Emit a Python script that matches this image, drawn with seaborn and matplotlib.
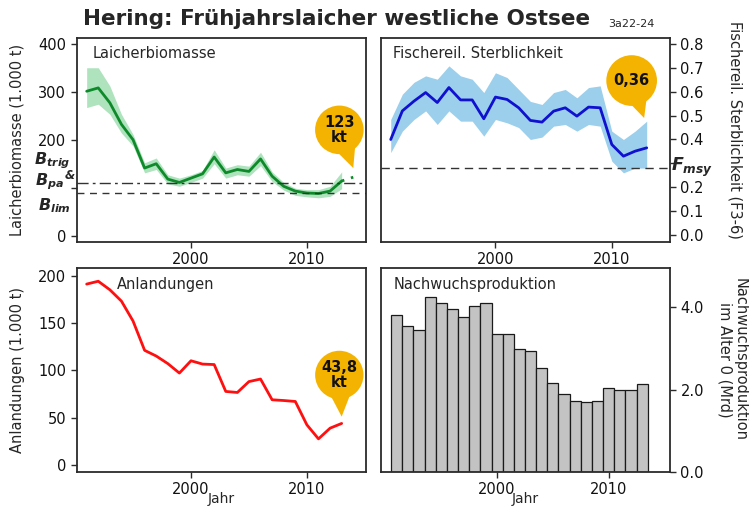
import matplotlib
matplotlib.use("Agg")
import matplotlib.pyplot as plt
import seaborn as sns

years = list(range(1991, 2014))

# Laicherbiomasse (1.000 t) mit Unsicherheitsband, 2014 = Prognose
ssb = [302, 309, 278, 233, 201, 142, 151, 119, 112, 121, 130, 165, 132, 139, 135, 161, 125, 104, 94, 90, 89, 94, 115]
ssb_hi = [351, 351, 313, 254, 212, 153, 163, 128, 121, 128, 137, 180, 142, 149, 146, 175, 134, 112, 100, 97, 97, 104, 134]
ssb_lo = [268, 275, 254, 215, 188, 132, 139, 109, 104, 112, 121, 151, 121, 128, 125, 147, 114, 96, 85, 82, 80, 83, 99]
ssb_prog_years = [2013, 2014]
ssb_prog = [115, 123]
b_pa = 110
b_lim = 90

# Fischereiliche Sterblichkeit F3-6
f_val = [0.40, 0.52, 0.561, 0.597, 0.555, 0.618, 0.566, 0.566, 0.487, 0.578, 0.568, 0.533,
         0.48, 0.473, 0.519, 0.533, 0.498, 0.536, 0.533, 0.379, 0.33, 0.351, 0.365]
f_hi = [0.484, 0.59, 0.64, 0.667, 0.653, 0.709, 0.667, 0.653, 0.597, 0.68, 0.66, 0.61,
        0.56, 0.547, 0.597, 0.61, 0.575, 0.618, 0.625, 0.435, 0.40, 0.435, 0.477]
f_lo = [0.345, 0.435, 0.484, 0.52, 0.463, 0.52, 0.477, 0.477, 0.414, 0.484, 0.47, 0.45,
        0.40, 0.41, 0.456, 0.463, 0.435, 0.463, 0.456, 0.309, 0.26, 0.28, 0.28]
f_msy = 0.28

# Anlandungen (1.000 t)
landings = [191, 194, 185, 173, 152, 121, 115, 107, 97, 110, 106.5, 106, 77.6, 76.5, 88,
            90.7, 68.8, 68, 67, 42.3, 27.5, 38.8, 43.8]

# Nachwuchsproduktion im Alter 0 (Mrd)
recruits = [3.82, 3.54, 3.46, 4.25, 4.11, 3.96, 3.77, 4.03, 4.12, 3.36, 3.36, 2.98, 2.94,
            2.54, 2.17, 1.89, 1.73, 1.69, 1.73, 2.04, 1.99, 1.99, 2.15]

callouts = ["123\nkt", "0,36", "43,8\nkt"]

sns.set_style("white")
plt.rcParams["font.family"] = ["DejaVu Sans"]
plt.rcParams["mathtext.fontset"] = "custom"
plt.rcParams["mathtext.it"] = "DejaVu Sans:italic:bold"
plt.rcParams["mathtext.rm"] = "DejaVu Sans:bold:italic"

dark = "#2b2b2b"
yellow = "#F5B301"

fig = plt.figure(figsize=(7.49, 5.09), dpi=100)
ax_tl = fig.add_axes([0.1024, 0.5246, 0.3858, 0.4008])
ax_tr = fig.add_axes([0.5083, 0.5246, 0.3862, 0.4008])
ax_bl = fig.add_axes([0.1024, 0.0727, 0.3858, 0.4008])
ax_br = fig.add_axes([0.5083, 0.0727, 0.3862, 0.4008])


def style(ax, right=False):
    for s in ax.spines.values():
        s.set_color(dark)
        s.set_linewidth(1.3)
    ax.tick_params(axis="both", direction="out", length=4, width=1, color=dark,
                   labelsize=10.5, labelcolor="#111111", bottom=True,
                   left=not right, right=right, labelleft=not right, labelright=right)
    ax.set_xticks([2000, 2010])
    ax.set_xlabel("")
    ax.set_ylabel("")


def bubble(ax, text, xy, offset, pad):
    ax.annotate(text, xy=xy, xytext=offset, textcoords="offset points",
                ha="center", va="center", fontsize=10.5, fontweight="bold",
                color="#111111", linespacing=0.95, zorder=10,
                bbox=dict(boxstyle=f"circle,pad={pad}", fc=yellow, ec="none"),
                arrowprops=dict(arrowstyle="wedge,tail_width=2.6", fc=yellow, ec="none",
                                patchA=None, shrinkA=0, shrinkB=0),
                annotation_clip=False)


# Laicherbiomasse
ax = ax_tl
ax.fill_between(years, ssb_lo, ssb_hi, color="#9adcae", alpha=0.8, lw=0)
sns.lineplot(x=years, y=ssb, ax=ax, color="#0f8a2a", linewidth=2)
sns.lineplot(x=ssb_prog_years, y=ssb_prog, ax=ax, color="#0f8a2a", linewidth=2, linestyle=(0, (1, 2.5)))
ax.axhline(b_pa, color="#333333", lw=1, dashes=(8, 3, 2, 3))
ax.axhline(b_lim, color="#333333", lw=1, dashes=(5, 4))
ax.set_xlim(1990.14, 2015.07)
ax.set_ylim(-12, 413)
ax.set_yticks([0, 100, 200, 300, 400])
ax.set_yticklabels(["0", "", "200", "300", "400"])
style(ax)
ax.text(0.056, 0.926, "Laicherbiomasse", transform=ax.transAxes, fontsize=10.5, va="center")
ax.set_ylabel("Laicherbiomasse (1.000 t)", fontsize=10.5)
ax.yaxis.set_label_coords(-0.18, 0.5)
btr = ax.get_yaxis_transform()
ax.text(-0.02, 158, r"$B_{trig}$", transform=btr, ha="right", va="center", fontsize=11.5, clip_on=False)
ax.text(-0.045, 113, r"$B_{pa}$", transform=btr, ha="right", va="center", fontsize=11.5, clip_on=False)
ax.text(-0.042, 126, "&", transform=btr, ha="left", va="center", fontsize=8.5,
        fontweight="bold", fontstyle="italic", clip_on=False)
ax.text(-0.02, 63, r"$B_{lim}$", transform=btr, ha="right", va="center", fontsize=11.5, clip_on=False)
bubble(ax, callouts[0], (2014.0, 142), (-10, 27.5), 0.62)

# Fischereiliche Sterblichkeit
ax = ax_tr
ax.fill_between(years, f_lo, f_hi, color="#9ccfeb", lw=0)
sns.lineplot(x=years, y=f_val, ax=ax, color="#1010d0", linewidth=2)
ax.axhline(f_msy, color="#333333", lw=1, dashes=(6, 4))
ax.set_xlim(1990.14, 2015.0)
ax.set_ylim(-0.03, 0.826)
ticks = [i / 10 for i in range(9)]
ax.set_yticks(ticks)
ax.set_yticklabels(["" if abs(t - 0.3) < 1e-9 else f"{t:.1f}" for t in ticks])
style(ax, right=True)
ax.text(0.043, 0.926, "Fischereil. Sterblichkeit", transform=ax.transAxes, fontsize=10.5, va="center")
ax.yaxis.set_label_position("right")
ax.set_ylabel("Fischereil. Sterblichkeit (F3-6)", fontsize=10.5, rotation=270, va="center")
ax.yaxis.set_label_coords(1.225, 0.55)
ax.text(1.005, f_msy + 0.005, r"$F_{msy}$", transform=ax.get_yaxis_transform(), ha="left",
        va="center", fontsize=12.5, clip_on=False)
bubble(ax, callouts[1], (2012.78, 0.49), (-9, 27), 0.5)

# Anlandungen
ax = ax_bl
sns.lineplot(x=years, y=landings, ax=ax, color="#ff1010", linewidth=2)
ax.set_xlim(1990.14, 2015.07)
ax.set_ylim(-7.5, 208)
ax.set_yticks([0, 50, 100, 150, 200])
style(ax)
ax.text(0.138, 0.917, "Anlandungen", transform=ax.transAxes, fontsize=10.5, va="center")
ax.set_ylabel("Anlandungen (1.000 t)", fontsize=10.5)
ax.yaxis.set_label_coords(-0.18, 0.5)
ax.set_xlabel("Jahr", fontsize=10)
ax.xaxis.set_label_coords(0.5, -0.1)
bubble(ax, callouts[2], (2013.0, 51), (-1.7, 30), 0.42)

# Nachwuchsproduktion
ax = ax_br
sns.barplot(x=years, y=recruits, ax=ax, native_scale=True, width=1, color="#c3c3c3",
            edgecolor="#1a1a1a", linewidth=0.9, saturation=1)
ax.set_xlim(1989.57, 2015.49)
ax.set_ylim(0, 4.96)
ax.set_yticks([0, 2, 4])
ax.set_yticklabels(["0.0", "2.0", "4.0"])
style(ax, right=True)
ax.text(0.046, 0.917, "Nachwuchsproduktion", transform=ax.transAxes, fontsize=10.5, va="center")
ax.yaxis.set_label_position("right")
ax.set_ylabel("Nachwuchsproduktion\nim Alter 0 (Mrd)", fontsize=10.5, rotation=270, va="center",
              linespacing=1.0)
ax.yaxis.set_label_coords(1.215, 0.55)
ax.set_xlabel("Jahr", fontsize=10)
ax.xaxis.set_label_coords(0.5, -0.1)

fig.text(0.449, 0.963, "Hering: Frühjahrslaicher westliche Ostsee", ha="center", va="center",
         fontsize=15.5, fontweight="bold")
fig.text(0.812, 0.952, "3a22-24", ha="left", va="center", fontsize=8)

fig.savefig("out.png", dpi=100)
